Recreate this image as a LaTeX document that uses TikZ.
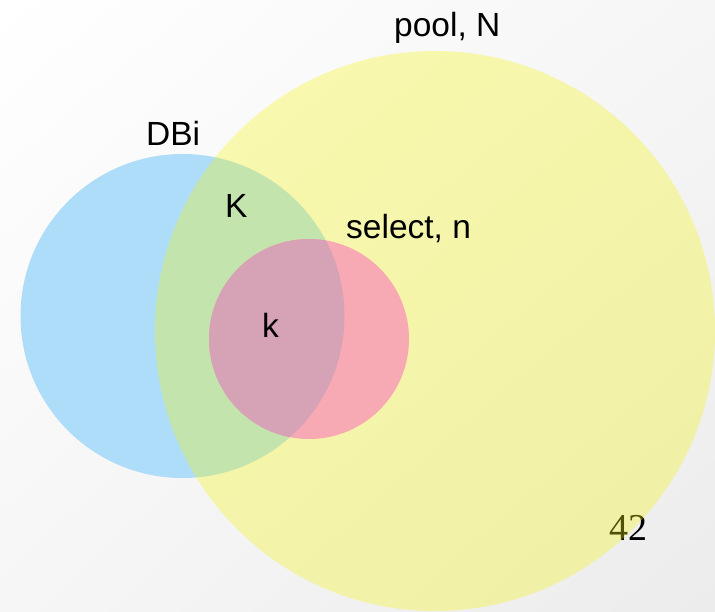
\documentclass[tikz,border=0pt]{standalone}
\usepackage{fontspec}
\usetikzlibrary{shadings}
\setmainfont{Liberation Sans}
\newfontfamily\serifnum{Liberation Serif}
\definecolor{bluec}{RGB}{173,221,249}
\definecolor{yellowc}{RGB}{245,245,20}
\definecolor{pinkc}{RGB}{248,170,180}
\definecolor{mauvec}{RGB}{213,162,182}
\definecolor{bgcorner}{RGB}{236,236,236}
\definecolor{bgmid}{RGB}{246,246,246}
\definecolor{bgtop}{RGB}{255,255,255}
\begin{document}
\begin{tikzpicture}[x=1pt,y=-1pt,
  lbl/.style={anchor=base west, inner sep=0pt, font=\fontsize{33.5}{40}\selectfont},
  numlbl/.style={anchor=base west, inner sep=0pt, font=\serifnum\fontsize{38}{44}\selectfont}]
\useasboundingbox (0,0) rectangle (715,611);
\clip (0,0) rectangle (715,611);
\shade[upper left=bgtop, upper right=bgmid, lower left=bgmid, lower right=bgcorner] (0,0) rectangle (715,611);
\node[numlbl] (num) at (609,540) {42};
\fill[bluec] (182.5,316) circle[radius=162];
\fill[yellowc, fill opacity=0.33] (435,331) circle[radius=280];
\fill[pinkc] (309,339) circle[radius=100];
\begin{scope}
  \clip (182.5,316) circle[radius=162];
  \fill[mauvec] (309,339) circle[radius=100];
\end{scope}
\node[lbl] (pool) at (394,36) {pool, N};
\node[lbl] (dbi) at (146,145) {DBi};
\node[lbl] (bigk) at (225,217) {K};
\node[lbl] (sel) at (346,238) {select, n};
\node[lbl] (smallk) at (262,337) {k};
\end{tikzpicture}
\end{document}
